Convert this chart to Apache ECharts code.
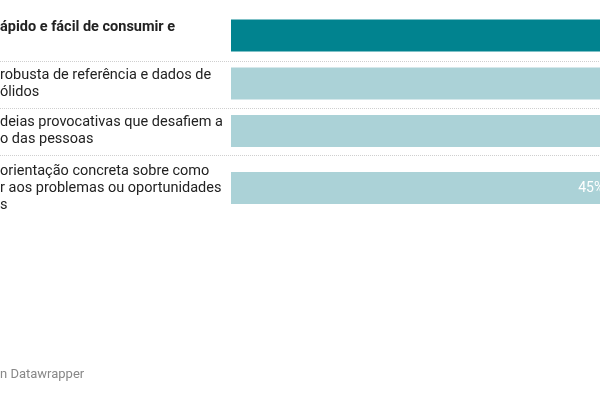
<!DOCTYPE html>
<html>
<head>
<meta charset="utf-8">
<script src="https://cdn.jsdelivr.net/npm/echarts@6/dist/echarts.min.js"></script>
<style>html,body{margin:0;padding:0;background:#fff}#c{width:600px;height:400px}</style>
</head>
<body>
<div id="c"></div>
<script>
var categories = [
  'ápido e fácil de consumir e\n ',
  'robusta de referência e dados de\nólidos',
  'deias provocativas que desafiem a\no das pessoas',
  'orientação concreta sobre como\nr aos problemas ou oportunidades\ns'
];
var values = [60, 52, 50, 45];
var valueLabels = ['60%', '52%', '50%', '45%'];
var highlight = [true, false, false, false];

var centers = [35.5, 83.5, 131, 188];
var font = 'Roboto, "Noto Sans", sans-serif';
var grids = [], xAxes = [], yAxes = [], series = [];
for (var i = 0; i < categories.length; i++) {
  grids.push({left: 231, right: 0, top: centers[i] - 20, height: 40,
    containLabel: false, outerBoundsMode: 'none'});
  xAxes.push({type: 'value', gridIndex: i, min: 0, max: 43.9, show: false});
  yAxes.push({
    type: 'category', gridIndex: i, data: [categories[i]],
    axisLine: {show: false}, axisTick: {show: false}, splitLine: {show: false},
    axisLabel: {
      align: 'left', margin: 231, fontFamily: font, fontSize: 14.5, lineHeight: 17,
      color: '#222', fontWeight: highlight[i] ? 'bold' : 'normal'
    }
  });
  series.push({
    type: 'bar', xAxisIndex: i, yAxisIndex: i, barWidth: 32, clip: false,
    data: [values[i]],
    itemStyle: {color: highlight[i] ? '#01838f' : '#abd2d7'},
    label: {
      show: true, position: 'insideRight', distance: 5,
      formatter: (function (t) { return function () { return t; }; })(valueLabels[i]),
      color: '#fff', fontFamily: font, fontSize: 14
    },
    animation: false
  });
}
var sepY = [61, 108, 155];
var graphics = sepY.map(function (y) {
  return {type: 'line', shape: {x1: 0, y1: y + 0.5, x2: 600, y2: y + 0.5},
    style: {stroke: '#cfcfcf', lineWidth: 1, lineDash: [1, 1]}};
});
graphics.push({type: 'text', left: 0, top: 368,
  style: {text: 'n Datawrapper', fill: '#888', font: '13px Roboto, sans-serif'}});

var chart = echarts.init(document.getElementById('c'), null, {renderer: 'canvas'});
chart.setOption({
  animation: false,
  grid: grids, xAxis: xAxes, yAxis: yAxes, series: series, graphic: graphics
});
</script>
</body>
</html>
